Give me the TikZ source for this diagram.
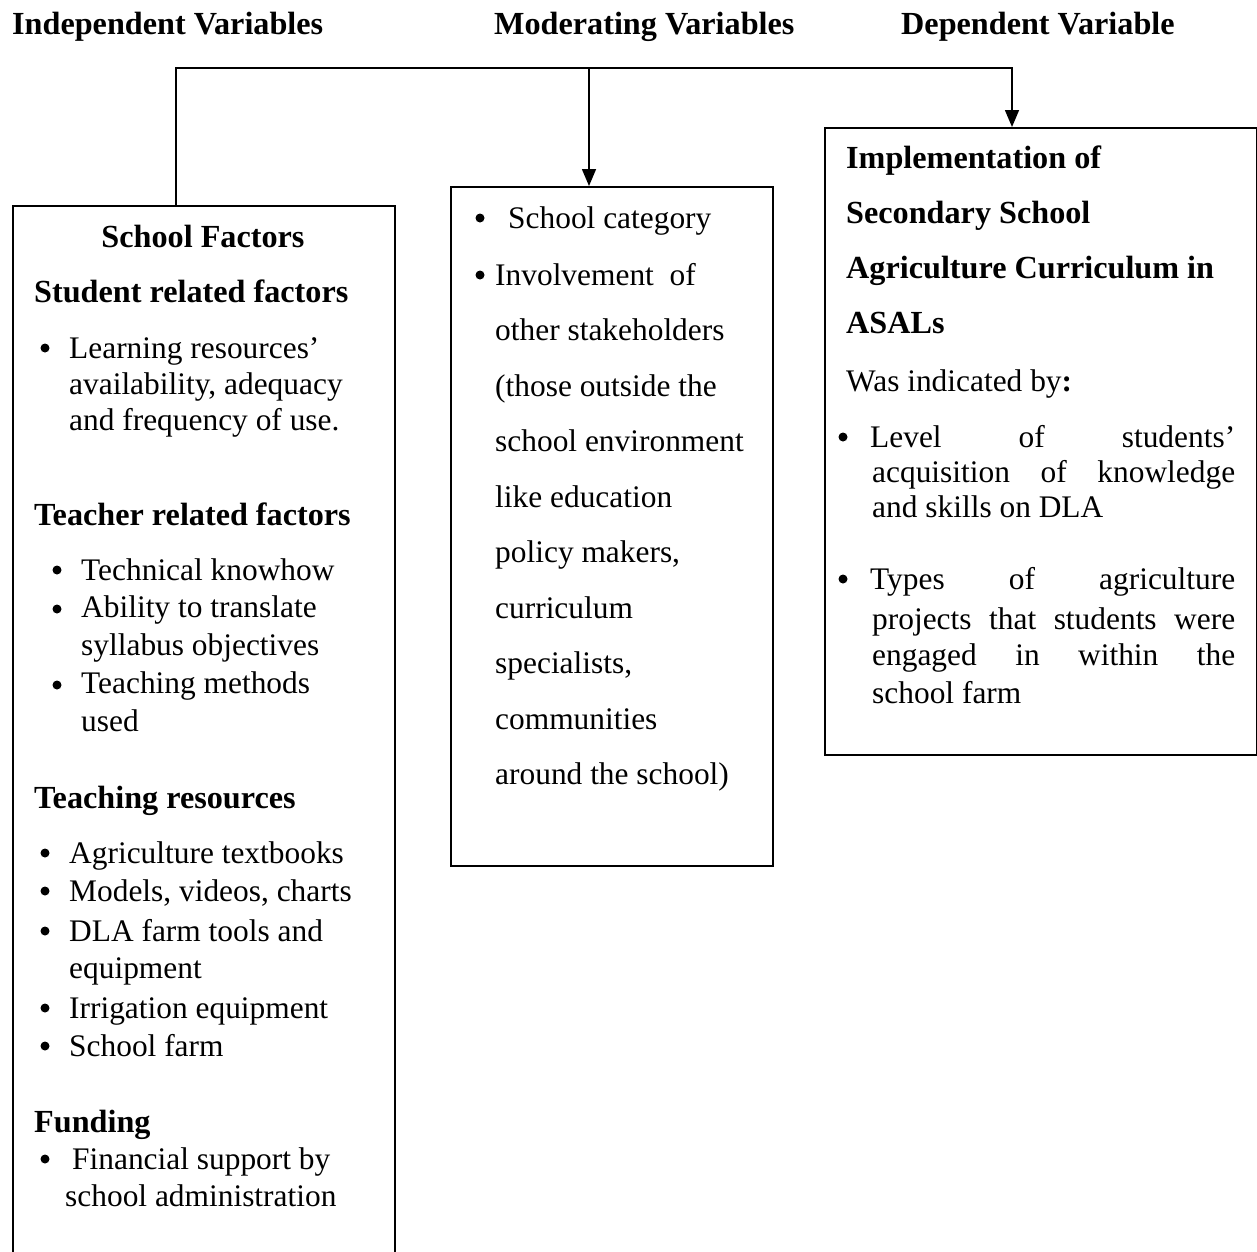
\documentclass[tikz,border=0pt]{standalone}
\usepackage{fontspec}
\setmainfont{Liberation Serif}
\usetikzlibrary{arrows.meta}
\begin{document}
\begin{tikzpicture}[x=1pt,y=-1pt,font=\fontsize{31.4}{38}\selectfont,
    box/.style={draw,line width=1.6pt,anchor=north west,inner sep=0pt},
    txt/.style={anchor=base west,inner sep=0pt},
    hd/.style={txt,font=\fontsize{32.2}{38}\selectfont\bfseries},
    bul/.style={circle,fill,inner sep=0pt,minimum size=9pt,yshift=10pt},
    link/.style={line width=1.6pt,-{Triangle[length=17pt,width=14pt]}}]
    \useasboundingbox (0,0) rectangle (1257,1251);
    \node[hd] (iv) at (12,34) {Independent Variables};
    \node[hd] (mv) at (494,34) {Moderating Variables};
    \node[hd] (dv) at (901,34) {Dependent Variable};
    \node[box,minimum width=382pt,minimum height=1080pt] (ind) at (12,205) {};
    \node[box,minimum width=322pt,minimum height=679pt] (mod) at (450,186) {};
    \node[box,minimum width=432pt,minimum height=627pt] (dep) at (824,127) {};
    \coordinate (jl) at (176,68);
    \coordinate (jm) at (589,68);
    \coordinate (jr) at (1012,68);
    \draw[link] (jl |- ind.north) -- (jl) -- (jr) -- (jr |- dep.north);
    \draw[link] (jm) -- (jm |- mod.north);
    % independent
    \node[hd,anchor=base] (sf) at (203,247) {School Factors};
    \node[hd] (srf) at (34,302) {Student related factors};
    \node[hd] (trf) at (34,525) {Teacher related factors};
    \node[hd] (tr) at (34,808) {Teaching resources};
    \node[hd] (fu) at (34,1132) {Funding};
    \foreach \y [count=\i] in {358,863,901,941,1018,1056,1169}
        \node[bul] (ba\i) at (45,\y) {};
    \foreach \y [count=\i] in {580,619,695}
        \node[bul] (bb\i) at (57,\y) {};
    \foreach \t [count=\i] in {Learning resources’,{availability, adequacy},and frequency of use.}
        \node[txt] (s\i) at (69,{358+36*(\i-1)}) {\t};
    \foreach \t [count=\i] in {Technical knowhow,Ability to translate,syllabus objectives,Teaching methods,used}
        \node[txt] (t\i) at (81,{580+37.8*(\i-1)}) {\t};
    \foreach \t/\y [count=\i] in {Agriculture textbooks/863,{Models, videos, charts}/901,DLA farm tools and/941,equipment/978,Irrigation equipment/1018,School farm/1056}
        \node[txt] (r\i) at (69,\y) {\t};
    \node[txt] (f1) at (72,1169) {Financial support by};
    \node[txt] (f2) at (65,1206) {school administration};
    % moderating
    \node[bul] (bm1) at (480,228) {};
    \node[bul] (bm2) at (480,285) {};
    \node[txt] (m0) at (508,228) {School category};
    \foreach \t [count=\i] in {Involvement\ \ of,other stakeholders,{(those outside the},school environment,like education,{policy makers,},curriculum,{specialists,},communities,{around the school)}}
        \node[txt] (m\i) at (495,{285+55.5*(\i-1)}) {\t};
    % dependent
    \foreach \t [count=\i] in {Implementation of,Secondary School,Agriculture Curriculum in,ASALs}
        \node[hd] (d\i) at (846,{168+55*(\i-1)}) {\t};
    \node[txt] (wi) at (846,391) {Was indicated by\textbf{:}};
    \node[bul] (bd1) at (843,447) {};
    \node[bul] (bd2) at (843,589) {};
    \node[txt] (e1) at (870,447) {\makebox[365pt][s]{Level of students’}};
    \node[txt] (e2) at (872,482) {\makebox[363pt][s]{acquisition of knowledge}};
    \node[txt] (e3) at (872,517) {and skills on DLA};
    \node[txt] (e4) at (870,589) {\makebox[365pt][s]{Types of agriculture}};
    \node[txt] (e5) at (872,629) {\makebox[363pt][s]{projects that students were}};
    \node[txt] (e6) at (872,665) {\makebox[363pt][s]{engaged in within the}};
    \node[txt] (e7) at (872,703) {school farm};
\end{tikzpicture}
\end{document}
